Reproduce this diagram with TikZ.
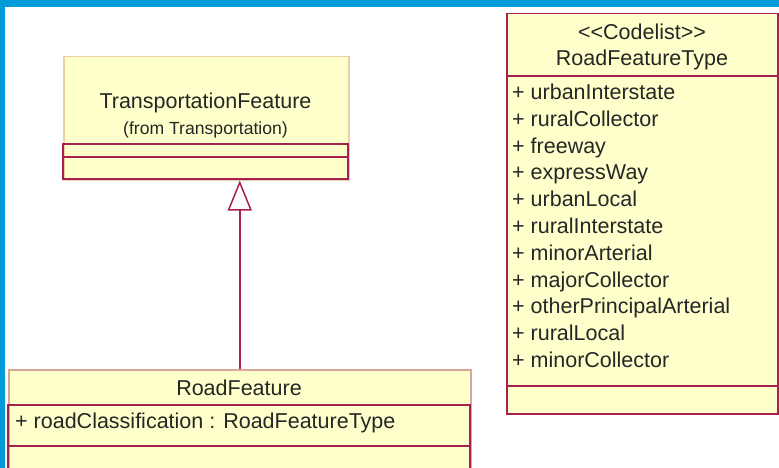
\documentclass[tikz,border=0pt]{standalone}
\usepackage{fontspec}
\setmainfont{Liberation Sans}
\usepackage{tikz}
\usepackage{xcolor}
\tikzset{>=latex}
\usetikzlibrary{arrows.meta,positioning}
\definecolor{umlfill}{HTML}{FFFFCC}
\definecolor{umlline}{HTML}{A8204F}
\definecolor{umlsoft}{HTML}{D9A69A}
\definecolor{umlpale}{HTML}{E8CFA4}
\definecolor{frameblue}{HTML}{009BD8}
\tikzset{
  classbox/.style={draw=umlline, fill=umlfill, line width=1.5pt, inner sep=0pt, anchor=north west},
  classname/.style={font=\fontsize{21.5}{24}\selectfont, inner sep=0pt, text=black!85},
  classnote/.style={font=\fontsize{17.6}{20}\selectfont, inner sep=0pt, text=black!85},
  classattr/.style={font=\fontsize{21.5}{24}\selectfont, inner sep=0pt, anchor=base west, text=black!85}
}

\begin{document}
\begin{tikzpicture}[x=1pt, y=-1pt]
      \useasboundingbox (0, 0) rectangle (779, 468);
      \clip (0, 0) rectangle (779, 468);
      \fill[white] (0, 0) rectangle (779, 468);
      \fill[frameblue] (0, 0) rectangle (779, 7);
      \fill[frameblue] (0, 0) rectangle (5, 468);
      % TransportationFeature
      \node[classbox, draw=umlpale, minimum width=285pt, minimum height=123pt] (tf) at (63, 56) {};
      \draw[umlline, line width=1.5pt] (63, 144) rectangle (348, 179);
      \draw[umlline, line width=1.5pt] (63, 157) -- (348, 157);
      \node[classname] (tfname) at (205.5, 103) {TransportationFeature};
      \node[classnote] (tffrom) at (205.5, 130) {(from Transportation)};
      % RoadFeature
      \node[classbox, draw=umlsoft, minimum width=462pt, minimum height=120pt] (rf) at (8, 369) {};
      \draw[umlline, line width=1.5pt] (8, 405) rectangle (470, 490);
      \draw[umlline, line width=1.5pt] (8, 446) -- (470, 446);
      \node[classname] (rfname) at (239, 388) {RoadFeature};
      \node[classattr] (rfattr) at (15, 428.5) {+ roadClassification : RoadFeatureType};
      % RoadFeatureType
      \node[classbox, minimum width=271pt, minimum height=400pt] (rft) at (506, 13) {};
      \draw[umlline, line width=1.5pt] (506, 76) -- (777, 76);
      \draw[umlline, line width=1.5pt] (506, 386) -- (777, 386);
      \node[classname] (rftstereo) at (642, 32) {<\kern0pt<Codelist>\kern0pt>};
      \node[classname] (rftname) at (642, 60) {RoadFeatureType};
      \foreach \lit [count=\i from 0] in {urbanInterstate, ruralCollector, freeway, expressWay,
          urbanLocal, ruralInterstate, minorArterial, majorCollector,
          otherPrincipalArterial, ruralLocal, minorCollector}
        \node[classattr] (lit\i) at (512, 99.5 + 26.8*\i) {+ \lit};
      % generalization
      \draw[umlline, line width=1.5pt, -{Triangle[length=30pt, width=24pt, fill=white]}] (rf.north) -- (rf.north |- tf.south);
    \end{tikzpicture}
\end{document}
